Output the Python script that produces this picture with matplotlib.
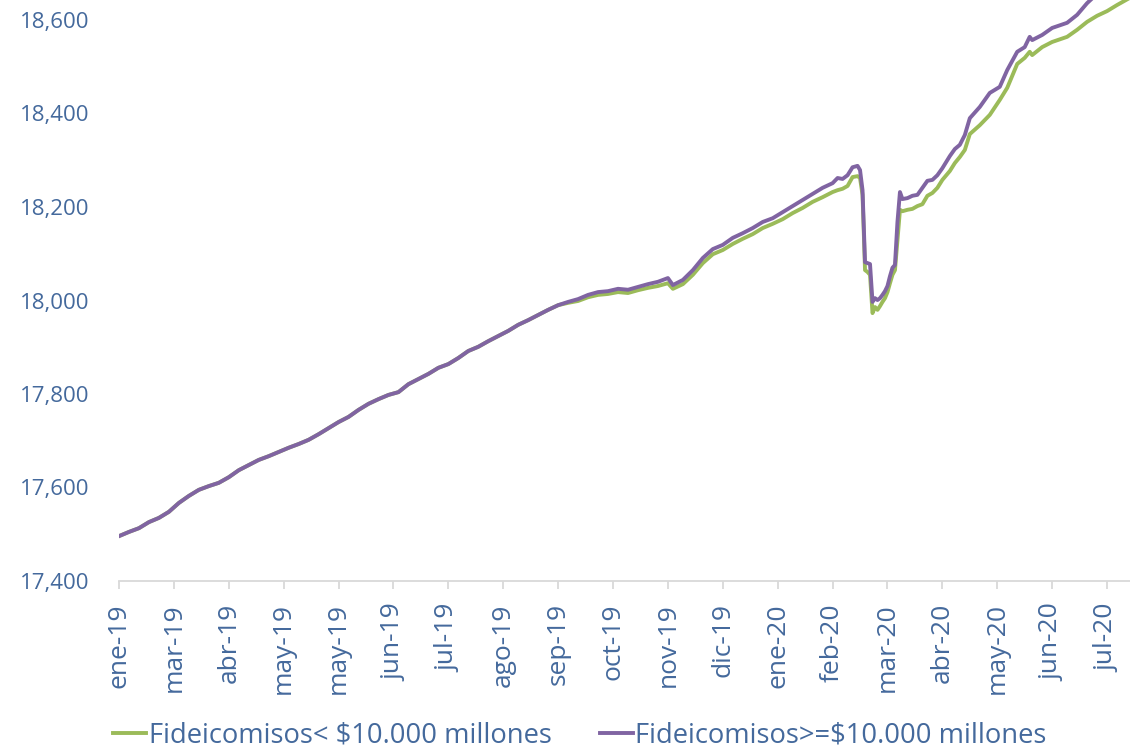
import matplotlib
matplotlib.use("Agg")
import matplotlib.pyplot as plt

# Data; x is the business-day index from ene-19
shared_idx = [0, 4, 8, 12, 16, 20, 24, 28, 32, 36, 40, 44, 48, 52, 56, 60, 64, 68, 72, 76,
              80, 84, 88, 92, 96, 100, 104, 108, 112, 116, 120, 124, 128, 132, 136, 140,
              144, 148, 152, 156, 160, 164, 168, 172, 176]
shared_vals = [17496, 17505, 17513, 17526, 17535, 17548, 17567, 17582, 17595, 17603, 17610,
               17622, 17637, 17648, 17659, 17667, 17676, 17685, 17693, 17702, 17714, 17727,
               17740, 17751, 17766, 17779, 17789, 17798, 17804, 17821, 17832, 17843, 17856,
               17864, 17877, 17892, 17901, 17913, 17924, 17935, 17948, 17958, 17969, 17980,
               17990]

late_idx = [180, 184, 188, 192, 196, 200, 204, 208, 212, 216, 220, 222, 226, 230, 234, 238,
            242, 246, 250, 254, 258, 262, 266, 270, 274, 278, 282, 286, 288, 290, 292, 294,
            296, 297, 298, 299, 300, 301, 302, 303, 304, 305, 306, 307, 308, 309, 310, 311,
            312, 313, 314, 316, 318, 320, 322, 324, 326, 328, 330, 333, 335, 337, 339, 341,
            345, 349, 353, 356, 360, 363, 365, 366, 370, 374, 380, 384, 388, 392, 396, 400,
            405]

small_late = [17995, 17999, 18007, 18012, 18014, 18018, 18016, 18022, 18027, 18031, 18037,
              18025, 18035, 18055, 18080, 18099, 18108, 18121, 18132, 18142, 18155, 18164,
              18174, 18187, 18198, 18211, 18221, 18232, 18236, 18239, 18245, 18264, 18266,
              18262, 18226, 18065, 18061, 18055, 17973, 17986, 17980, 17988, 17997, 18005,
              18018, 18037, 18055, 18065, 18129, 18194, 18191, 18194, 18196, 18202, 18206,
              18224, 18230, 18241, 18258, 18277, 18294, 18307, 18322, 18356, 18375, 18397,
              18429, 18455, 18506, 18519, 18532, 18525, 18542, 18553, 18564, 18579, 18596,
              18609, 18619, 18632, 18647]

big_late = [17997, 18003, 18012, 18018, 18020, 18025, 18023, 18029, 18035, 18040, 18048,
            18033, 18044, 18065, 18091, 18110, 18119, 18134, 18144, 18155, 18168, 18176,
            18189, 18202, 18215, 18228, 18241, 18251, 18262, 18260, 18268, 18285, 18288,
            18279, 18236, 18082, 18080, 18078, 17997, 18005, 18001, 18005, 18012, 18020,
            18031, 18052, 18070, 18076, 18168, 18232, 18217, 18219, 18224, 18226, 18241,
            18256, 18258, 18268, 18283, 18309, 18324, 18333, 18354, 18390, 18414, 18444,
            18457, 18493, 18532, 18542, 18564, 18557, 18568, 18583, 18594, 18611, 18636,
            18656, 18673, 18690, 18711]

tick_labels = ["ene-19", "mar-19", "abr-19", "may-19", "may-19", "jun-19", "jul-19", "ago-19",
               "sep-19", "oct-19", "nov-19", "dic-19", "ene-20", "feb-20", "mar-20", "abr-20",
               "may-20", "jun-20", "jul-20"]
tick_step = 22

x = shared_idx + late_idx
small = shared_vals + small_late
big = shared_vals + big_late

text_color = "#44699c"
plt.rcParams["font.family"] = ["Open Sans", "DejaVu Sans"]

fig = plt.figure(figsize=(11.3, 7.5), dpi=100)
ax = fig.add_axes([119 / 1130, 1 - 581 / 750, 1 - 119 / 1130, 581 / 750])

ax.plot(x, small, color="#9bbb59", lw=2.8, label="Fideicomisos< $10.000 millones",
        solid_joinstyle="round")
ax.plot(x, big, color="#8064a2", lw=2.8, label="Fideicomisos>=$10.000 millones",
        solid_joinstyle="round")

ax.set_xlim(0, 405.2)
ax.set_ylim(17400, 17400 + 581 / 0.4675)
ax.set_yticks([17400, 17600, 17800, 18000, 18200, 18400, 18600])
ax.yaxis.set_major_formatter(plt.FuncFormatter(lambda v, _: f"{v:,.0f}"))
ax.set_xticks([i * tick_step for i in range(len(tick_labels))])
ax.set_xticklabels(tick_labels, rotation=90, fontsize=19, color=text_color)

for side in ["top", "right", "left"]:
    ax.spines[side].set_visible(False)
ax.spines["bottom"].set_color("#d9d9d9")
ax.spines["bottom"].set_linewidth(1.3)

ax.tick_params(axis="y", length=0, pad=21, labelsize=16, labelcolor=text_color)
ax.tick_params(axis="x", length=6, width=1.3, color="#d9d9d9", pad=10)

fig.legend(loc="center", bbox_to_anchor=(580 / 1130, 1 - 736 / 750), ncol=2,
           frameon=False, fontsize=19.7, labelcolor=text_color, handlelength=1.2,
           handletextpad=0.1, columnspacing=1.75, borderpad=0)

fig.savefig("out.png", dpi=100, facecolor="white")
plt.close(fig)
